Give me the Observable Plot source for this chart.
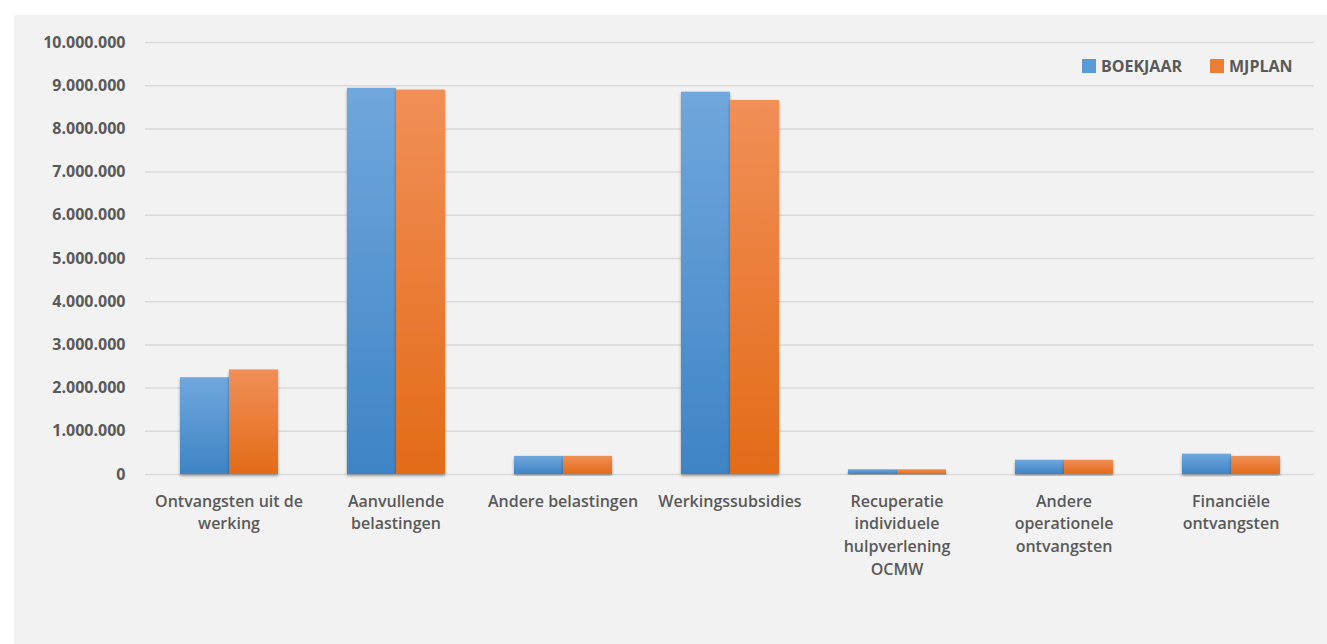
<!DOCTYPE html>
<html>
<head>
<meta charset="utf-8">
<script src="https://cdn.jsdelivr.net/npm/d3@7"></script>
<script src="https://cdn.jsdelivr.net/npm/@observablehq/plot@0.6"></script>
<style>
  html, body { margin: 0; padding: 0; background: #ffffff; }
  body { width: 1327px; height: 644px; position: relative; overflow: hidden; font-family: "Open Sans", sans-serif; }
  #panel { position: absolute; left: 14px; top: 15px; width: 1313px; height: 629px; background: #f2f2f2; }
  #legend { position: absolute; left: 1068px; top: 40px; display: flex; align-items: center; font-family: "Open Sans", sans-serif; font-weight: 700; font-size: 16px; color: #595959; white-space: nowrap; }
  #legend .item { display: flex; align-items: center; margin-right: 28px; }
  #legend .sw { width: 14px; height: 14px; margin-right: 5px; }
</style>
</head>
<body>
<div id="panel"><div id="chart"></div><div id="legend"></div></div>
<script>
// ---- data ----
const categories = [
  "Ontvangsten uit de werking",
  "Aanvullende belastingen",
  "Andere belastingen",
  "Werkingssubsidies",
  "Recuperatie individuele hulpverlening OCMW",
  "Andere operationele ontvangsten",
  "Financiële ontvangsten"
];
const categoryLabels = [
  "Ontvangsten uit de\nwerking",
  "Aanvullende\nbelastingen",
  "Andere belastingen",
  "Werkingssubsidies",
  "Recuperatie\nindividuele\nhulpverlening\nOCMW",
  "Andere\noperationele\nontvangsten",
  "Financiële\nontvangsten"
];
const seriesNames = ["BOEKJAAR", "MJPLAN"];
const boekjaar = [2240000, 8940000, 420000, 8850000, 110000, 330000, 470000];
const mjplan   = [2420000, 8900000, 420000, 8660000, 110000, 330000, 420000];
const yTicks = [0, 1000000, 2000000, 3000000, 4000000, 5000000, 6000000, 7000000, 8000000, 9000000, 10000000];
const legendColors = ["#5b9bd5", "#ed7d31"];

// ---- table ----
const rows = [];
categories.forEach((c, i) => {
  rows.push({category: c, series: seriesNames[0], value: boekjaar[i]});
  rows.push({category: c, series: seriesNames[1], value: mjplan[i]});
});
const labelOf = new Map(categories.map((c, i) => [c, categoryLabels[i]]));
const nl = d3.formatLocale({decimal: ",", thousands: ".", grouping: [3], currency: ["€", ""]});
const fmt = nl.format(",d");

const chart = Plot.plot({
  width: 1313,
  height: 629,
  marginLeft: 128,
  marginRight: 10,
  marginTop: 27,
  marginBottom: 170,
  style: {background: "transparent", fontFamily: "Open Sans, sans-serif", color: "#595959"},
  fx: {domain: categories, padding: 0, label: null},
  x: {domain: seriesNames, paddingInner: 0, paddingOuter: 0.7, axis: null},
  y: {domain: [0, 10000000], label: null},
  color: {domain: seriesNames, range: ["url(#gradBlue)", "url(#gradOrange)"]},
  marks: [
    Plot.gridY(yTicks, {stroke: "#d9d9d9", strokeOpacity: 1, strokeWidth: 1.5}),
    Plot.barY(rows, {fx: "category", x: "series", y: "value", fill: "series"}),
    Plot.axisY({ticks: yTicks, tickFormat: fmt, tickSize: 0, tickPadding: 20, fontSize: 16, fontWeight: 700}),
    Plot.axisFx({anchor: "bottom", tickSize: 0, tickPadding: 16, tickFormat: d => labelOf.get(d), fontSize: 16, fontWeight: 600, lineHeight: 1.42, label: null})
  ]
});
document.getElementById("chart").appendChild(chart);

// gradients + shadow
const svg = d3.select(chart);
const defs = svg.insert("defs", ":first-child");
function grad(id, top, bottom) {
  const g = defs.append("linearGradient").attr("id", id).attr("x1", 0).attr("y1", 0).attr("x2", 0).attr("y2", 1);
  g.append("stop").attr("offset", "0%").attr("stop-color", top);
  g.append("stop").attr("offset", "100%").attr("stop-color", bottom);
}
grad("gradBlue", "#70a7dc", "#3e84c6");
grad("gradOrange", "#f18f57", "#e36b18");
const f = defs.append("filter").attr("id", "barShadow").attr("x", "-20%").attr("y", "-5%").attr("width", "140%").attr("height", "115%");
f.append("feDropShadow").attr("dx", 0).attr("dy", 2).attr("stdDeviation", 1.5).attr("flood-color", "#000").attr("flood-opacity", 0.35);
svg.selectAll("g[aria-label='bar'] rect").attr("filter", "url(#barShadow)");

// legend
const legend = d3.select("#legend");
seriesNames.forEach((s, i) => {
  const it = legend.append("div").attr("class", "item");
  it.append("div").attr("class", "sw").style("background", legendColors[i]);
  it.append("span").text(s);
});
</script>
</body>
</html>
